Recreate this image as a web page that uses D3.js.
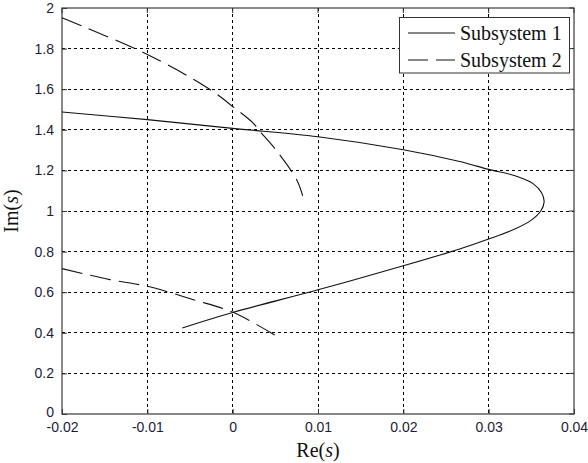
<!DOCTYPE html>
<html>
<head>
<meta charset="utf-8">
<script src="https://cdn.jsdelivr.net/npm/d3@7"></script>
<style>
  body { margin: 0; background: #fff; }
  svg { display: block; }
</style>
</head>
<body>
<svg width="588" height="463"></svg>
<script>
// data
const sub1Re = [-0.02, -0.01, 0, 0.01, 0.02, 0.0266, 0.03, 0.033, 0.0352, 0.0362, 0.0365, 0.0361, 0.035, 0.033, 0.03, 0.0266, 0.02, 0.01, 0, -0.0059];
const sub1Im = [1.488, 1.45, 1.407, 1.366, 1.302, 1.244, 1.205, 1.175, 1.135, 1.09, 1.045, 1.0, 0.955, 0.91, 0.862, 0.813, 0.73, 0.612, 0.50, 0.424];

const sub2UpperRe = [-0.02, -0.01, -0.0027, 0, 0.0024, 0.0032, 0.0052, 0.0075, 0.0082];
const sub2UpperIm = [1.952, 1.771, 1.60, 1.515, 1.433, 1.392, 1.294, 1.154, 1.075];

const sub2LowerRe = [-0.02, -0.0144, -0.01, -0.0046, 0, 0.0052];
const sub2LowerIm = [0.716, 0.662, 0.629, 0.563, 0.502, 0.382];

const xTicks = [-0.02, -0.01, 0, 0.01, 0.02, 0.03, 0.04];
const yTicks = [0, 0.2, 0.4, 0.6, 0.8, 1, 1.2, 1.4, 1.6, 1.8, 2];
const seriesNames = ["Subsystem 1", "Subsystem 2"];

const margin = {top: 8, right: 14, bottom: 49, left: 62};
const width = 588 - margin.left - margin.right;
const height = 463 - margin.top - margin.bottom;

const svg = d3.select("svg");
const g = svg.append("g").attr("transform", `translate(${margin.left},${margin.top})`);

const x = d3.scaleLinear().domain([-0.02, 0.04]).range([0, width]);
const y = d3.scaleLinear().domain([0, 2]).range([height, 0]);

// grid
g.append("g").selectAll("line").data(xTicks.slice(1, -1)).join("line")
  .attr("x1", d => x(d)).attr("x2", d => x(d))
  .attr("y1", 0).attr("y2", height)
  .attr("stroke", "#000").attr("stroke-width", 1).attr("stroke-dasharray", "3,3")
  .attr("shape-rendering", "crispEdges");
g.append("g").selectAll("line").data(yTicks.slice(1, -1)).join("line")
  .attr("y1", d => y(d)).attr("y2", d => y(d))
  .attr("x1", 0).attr("x2", width)
  .attr("stroke", "#000").attr("stroke-width", 1).attr("stroke-dasharray", "3,3")
  .attr("shape-rendering", "crispEdges");

// axes
const fmt = d => String(+d.toFixed(2));
const xAxis = g.append("g").attr("transform", `translate(0,${height})`)
  .call(d3.axisBottom(x).tickValues(xTicks).tickFormat(fmt).tickSize(-5).tickPadding(8));
const yAxis = g.append("g")
  .call(d3.axisLeft(y).tickValues(yTicks).tickFormat(fmt).tickSize(-5).tickPadding(8));
[xAxis, yAxis].forEach(a => {
  a.select(".domain").remove();
  a.selectAll("line").attr("stroke", "#333");
  a.selectAll("text").attr("font-family", "Liberation Sans, Arial, sans-serif")
    .attr("font-size", "14px").attr("fill", "#1c1c3a");
});
// lift the "0" on the y axis a touch so it clears the first x label
yAxis.selectAll("text").filter(d => d === 0).attr("dy", "0.15em");

// top / right ticks
g.append("g").selectAll("line").data(xTicks).join("line")
  .attr("x1", d => x(d)).attr("x2", d => x(d)).attr("y1", 0).attr("y2", 5).attr("stroke", "#333");
g.append("g").selectAll("line").data(yTicks).join("line")
  .attr("y1", d => y(d)).attr("y2", d => y(d)).attr("x1", width).attr("x2", width - 5).attr("stroke", "#333");

// box
g.append("rect").attr("x", 0).attr("y", 0).attr("width", width).attr("height", height)
  .attr("fill", "none").attr("stroke", "#3a3a3a").attr("stroke-width", 1.2);

// curves
const line = d3.line().x(d => x(d[0])).y(d => y(d[1])).curve(d3.curveCatmullRom);
const zip = (a, b) => a.map((v, i) => [v, b[i]]);

g.append("path").datum(zip(sub1Re, sub1Im)).attr("d", line)
  .attr("fill", "none").attr("stroke", "#111").attr("stroke-width", 1.1);
[zip(sub2UpperRe, sub2UpperIm), zip(sub2LowerRe, sub2LowerIm)].forEach(pts => {
  g.append("path").datum(pts).attr("d", line)
    .attr("fill", "none").attr("stroke", "#111").attr("stroke-width", 1.1)
    .attr("stroke-dasharray", "21,8");
});

// axis labels
const xl = svg.append("text").attr("x", margin.left + width / 2).attr("y", 457)
  .attr("text-anchor", "middle").attr("font-family", "Liberation Serif, Times New Roman, serif")
  .attr("font-size", "20px").attr("fill", "#111");
xl.append("tspan").text("Re(");
xl.append("tspan").attr("font-style", "italic").text("s");
xl.append("tspan").text(")");

const yl = svg.append("text").attr("transform", `translate(18,${margin.top + height / 2}) rotate(-90)`)
  .attr("text-anchor", "middle").attr("font-family", "Liberation Serif, Times New Roman, serif")
  .attr("font-size", "20px").attr("fill", "#111");
yl.append("tspan").text("Im(");
yl.append("tspan").attr("font-style", "italic").text("s");
yl.append("tspan").text(")");

// legend
const leg = svg.append("g");
leg.append("rect").attr("x", 399.5).attr("y", 17.5).attr("width", 170).attr("height", 55.5)
  .attr("fill", "#fff").attr("stroke", "#333").attr("stroke-width", 1);
seriesNames.forEach((name, i) => {
  const yy = 33 + i * 27;
  leg.append("line").attr("x1", 408).attr("x2", 455).attr("y1", yy).attr("y2", yy)
    .attr("stroke", "#111").attr("stroke-width", 1.1)
    .attr("stroke-dasharray", i === 1 ? "20,8" : null);
  leg.append("text").attr("x", 460).attr("y", yy).attr("dy", "0.35em")
    .attr("font-family", "Liberation Serif, Times New Roman, serif")
    .attr("font-size", "20px").attr("fill", "#111").text(name);
});
</script>
</body>
</html>
